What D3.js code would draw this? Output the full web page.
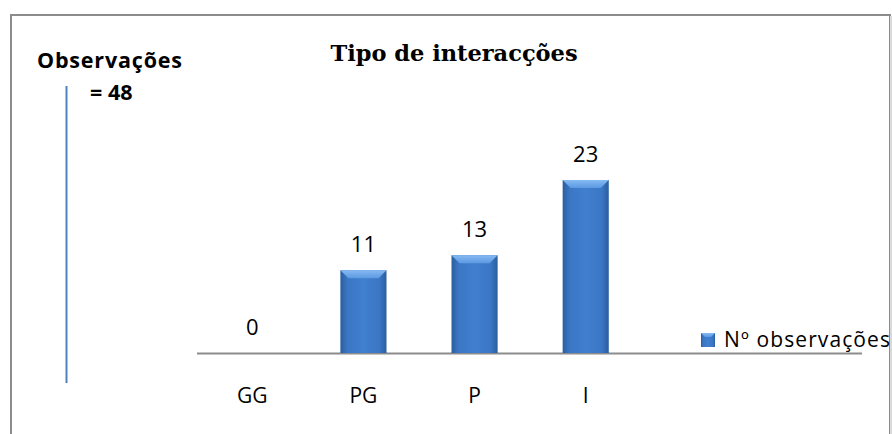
<!DOCTYPE html>
<html><head><meta charset="utf-8">
<script src="https://cdn.jsdelivr.net/npm/d3@7"></script>
<style>body{margin:0;background:#fff}svg{display:block}</style>
</head><body>
<script>
const categories = ["GG","PG","P","I"];
const values = [0,11,13,23];
const seriesName = "Nº observações";
const title = "Tipo de interacções";
const noteLines = ["Observações","= 48"];

const W=892,H=434;
const FONT="'Open Sans', sans-serif";
const svg=d3.select("body").append("svg").attr("width",W).attr("height",H);
const defs=svg.append("defs");
const g1=defs.append("linearGradient").attr("id","barg").attr("x1","0").attr("x2","1").attr("y1","0").attr("y2","0");
g1.append("stop").attr("offset","0").attr("stop-color","#2a5e9e");
g1.append("stop").attr("offset","0.15").attr("stop-color","#3a76c4");
g1.append("stop").attr("offset","0.5").attr("stop-color","#4080cf");
g1.append("stop").attr("offset","0.85").attr("stop-color","#3a76c4");
g1.append("stop").attr("offset","1").attr("stop-color","#2a5e9e");
const g2=defs.append("linearGradient").attr("id","bevel").attr("x1","0").attr("x2","0").attr("y1","0").attr("y2","1");
g2.append("stop").attr("offset","0").attr("stop-color","#86baf2");
g2.append("stop").attr("offset","1").attr("stop-color","#5c99e2");

// frame
svg.append("rect").attr("x",11).attr("y",15).attr("width",879).attr("height",430)
  .attr("fill","none").attr("stroke","#8c8c8c").attr("stroke-width",2);
svg.append("line").attr("x1",891).attr("x2",891).attr("y1",16).attr("y2",434).attr("stroke","#d9d9d9").attr("stroke-width",2);

const x=d3.scaleBand().domain(categories).range([197,641]).paddingInner(0.585).paddingOuter(0.29);
const y=d3.scaleLinear().domain([0,23]).range([353,180]);

// axis
const axis=svg.append("g").attr("transform","translate(0,353)")
  .call(d3.axisBottom(x).tickSize(0).tickPadding(35));
axis.select(".domain").remove();
axis.selectAll("text").attr("font-family",FONT).attr("font-size",21).attr("fill","#000");
svg.append("line").attr("x1",197).attr("x2",862).attr("y1",353.5).attr("y2",353.5).attr("stroke","#8c8c8c").attr("stroke-width",2);

// bars
const data=categories.map((c,i)=>({c,v:values[i]}));
const bars=svg.append("g").selectAll("g").data(data).join("g");
bars.append("rect").attr("x",d=>x(d.c)).attr("width",x.bandwidth())
  .attr("y",d=>y(d.v)).attr("height",d=>y(0)-y(d.v))
  .attr("fill","url(#barg)");
bars.filter(d=>d.v>0).append("path").attr("d",d=>{
  const x0=x(d.c),x1=x0+x.bandwidth(),t=y(d.v),b=8;
  return `M${x0},${t}L${x1},${t}L${x1-b},${t+b}L${x0+b},${t+b}Z`;
}).attr("fill","url(#bevel)");
bars.append("text").attr("x",d=>x(d.c)+x.bandwidth()/2).attr("y",d=>y(d.v)-18)
  .attr("text-anchor","middle").attr("font-family",FONT).attr("font-size",22)
  .text(d=>d.v);

// title
svg.append("text").attr("x",454).attr("y",61).attr("text-anchor","middle")
  .attr("font-family","'DejaVu Serif', serif").attr("font-weight","bold").attr("font-size",22.5).text(title);

// note
svg.append("text").attr("x",37).attr("y",68).attr("font-family",FONT).attr("font-weight","bold").attr("font-size",21.5).attr("textLength",145).text(noteLines[0]);
svg.append("text").attr("x",90).attr("y",100).attr("font-family",FONT).attr("font-weight","bold").attr("font-size",21.5).text(noteLines[1]);
svg.append("line").attr("x1",66.5).attr("x2",66.5).attr("y1",86).attr("y2",383).attr("stroke","#4f81bd").attr("stroke-width",2);

// legend
svg.append("rect").attr("x",701).attr("y",333).attr("width",14).attr("height",14).attr("fill","url(#barg)");
svg.append("path").attr("d","M701,333L715,333L711,337L705,337Z").attr("fill","url(#bevel)");
svg.append("text").attr("x",724).attr("y",347).attr("font-family",FONT).attr("font-size",21).attr("textLength",166).text(seriesName);
</script>
</body></html>
